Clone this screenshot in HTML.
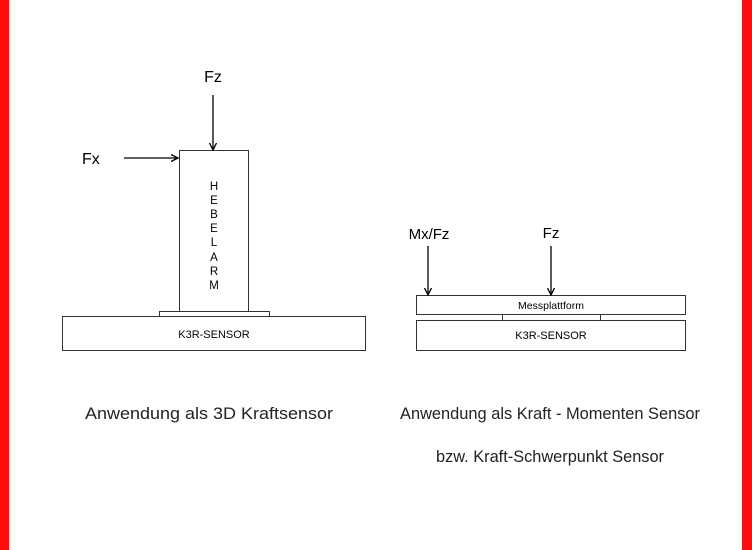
<!DOCTYPE html>
<html><head><style>
html,body{margin:0;padding:0;background:#fff}
</style></head><body>
<svg width="752" height="550" xmlns="http://www.w3.org/2000/svg" style="display:block">
<defs><marker id="a" markerWidth="8" markerHeight="10" refX="7" refY="4" orient="auto" markerUnits="userSpaceOnUse"><path d="M0,0.5 L7,4 L0,7.5" fill="none" stroke="#000" stroke-width="1.3"/></marker></defs>
<rect x="0" y="0" width="9" height="550" fill="#ff0d0d"/>
<rect x="742" y="0" width="10" height="550" fill="#ff0d0d"/>
<g font-family="Liberation Sans, sans-serif" fill="#000">
<g fill="none" stroke="#333" stroke-width="1">
<rect x="179.5" y="150.5" width="69" height="161"/>
<rect x="159.5" y="311.5" width="110" height="5"/>
<rect x="62.5" y="316.5" width="303" height="34"/>
<rect x="416.5" y="295.5" width="269" height="19"/>
<rect x="416.5" y="320.5" width="269" height="30"/>
<line x1="502.5" y1="314" x2="502.5" y2="320"/>
<line x1="600.5" y1="314" x2="600.5" y2="320"/>
</g>
<g stroke="#000" stroke-width="1.3" marker-end="url(#a)">
<line x1="213" y1="95" x2="213" y2="150"/>
<line x1="124" y1="158" x2="178" y2="158"/>
<line x1="428" y1="246" x2="428" y2="295"/>
<line x1="551" y1="246" x2="551" y2="295"/>
</g>
<text x="213" y="82" font-size="16" text-anchor="middle">Fz</text>
<text x="82" y="164" font-size="16">Fx</text>
<text x="429" y="239" font-size="15" text-anchor="middle">Mx/Fz</text>
<text x="551" y="238" font-size="15" text-anchor="middle">Fz</text>
<g font-size="11.5" text-anchor="middle">
<text x="214" y="190">H</text><text x="214" y="204">E</text><text x="214" y="218">B</text><text x="214" y="232">E</text><text x="214" y="246">L</text><text x="214" y="261">A</text><text x="214" y="275">R</text><text x="214" y="289">M</text>
</g>
<text x="214" y="338" font-size="11" text-anchor="middle">K3R-SENSOR</text>
<text x="551" y="309" font-size="10.5" text-anchor="middle">Messplattform</text>
<text x="551" y="339" font-size="11" text-anchor="middle">K3R-SENSOR</text>
<text x="85" y="419" font-size="17" textLength="248" lengthAdjust="spacingAndGlyphs" fill="#222">Anwendung als 3D Kraftsensor</text>
<text x="400" y="419" font-size="17" textLength="300" lengthAdjust="spacingAndGlyphs" fill="#222">Anwendung als Kraft - Momenten Sensor</text>
<text x="436" y="462" font-size="17" textLength="228" lengthAdjust="spacingAndGlyphs" fill="#222">bzw. Kraft-Schwerpunkt Sensor</text>
</g>
</svg>
</body></html>
